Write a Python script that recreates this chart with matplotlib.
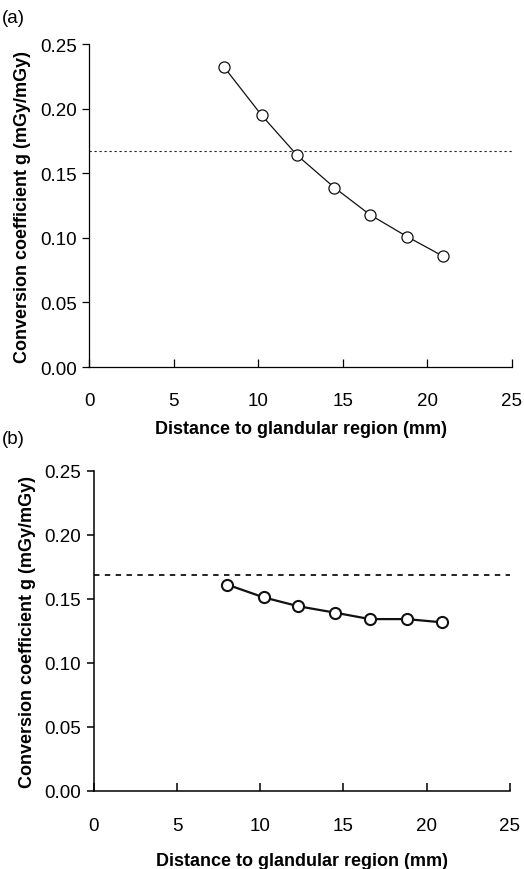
import matplotlib
matplotlib.use('Agg')
import matplotlib.pyplot as plt

plt.rcParams['font.family'] = ['Liberation Sans', 'DejaVu Sans']

# distance to glandular region (mm)
dist = [8.0, 10.2, 12.3, 14.5, 16.6, 18.8, 20.9]
# conversion coefficient g (mGy/mGy)
g_a = [0.232, 0.195, 0.164, 0.139, 0.118, 0.101, 0.086]
g_b = [0.161, 0.151, 0.144, 0.139, 0.134, 0.134, 0.1315]
ref_a = 0.1675
ref_b = 0.1685

xticks = [0, 5, 10, 15, 20, 25]
yticks = [0.00, 0.05, 0.10, 0.15, 0.20, 0.25]

fig = plt.figure(figsize=(5.24, 8.7), dpi=100, facecolor='white')
ax_a = fig.add_axes([0.170, 0.577, 0.807, 0.371])
ax_b = fig.add_axes([0.179, 0.090, 0.794, 0.368])


def style(ax, lw, xpad, xlpad):
    ax.set_xlim(0, 25)
    ax.set_ylim(0, 0.25)
    ax.set_xticks(xticks)
    ax.set_yticks(yticks)
    ax.set_yticklabels([f'{v:.2f}' for v in yticks])
    for s in ('top', 'right'):
        ax.spines[s].set_visible(False)
    for s in ('left', 'bottom'):
        ax.spines[s].set_linewidth(lw)
    ax.tick_params(axis='x', direction='in', length=6, width=lw, labelsize=13.5, pad=xpad)
    ax.tick_params(axis='y', direction='out', length=5, width=lw, labelsize=13.5, pad=4)
    ax.set_xlabel('Distance to glandular region (mm)', fontsize=13,
                  fontweight='bold', labelpad=xlpad)
    ax.set_ylabel('Conversion coefficient g (mGy/mGy)', fontsize=13,
                  fontweight='bold', labelpad=6)


# (a)
ax_a.axhline(ref_a, color='#222', linestyle=(0, (2, 2.5)), linewidth=0.8)
ax_a.plot(dist, g_a, color='#111', linewidth=0.9, marker='o', markersize=8,
          markerfacecolor='white', markeredgecolor='#111', markeredgewidth=0.9)
style(ax_a, 0.9, 18, 8)
fig.text(0.004, 0.974, '(a)', fontsize=13.5)

# (b)
ax_b.axhline(ref_b, color='#111', linestyle=(0, (3, 3)), linewidth=1.3)
ax_b.plot(dist, g_b, color='#111', linewidth=1.6, marker='o', markersize=8,
          markerfacecolor='white', markeredgecolor='#111', markeredgewidth=1.5)
style(ax_b, 1.1, 19, 13)
fig.text(0.004, 0.490, '(b)', fontsize=13.5)

fig.savefig('out.png', dpi=100, facecolor='white')
